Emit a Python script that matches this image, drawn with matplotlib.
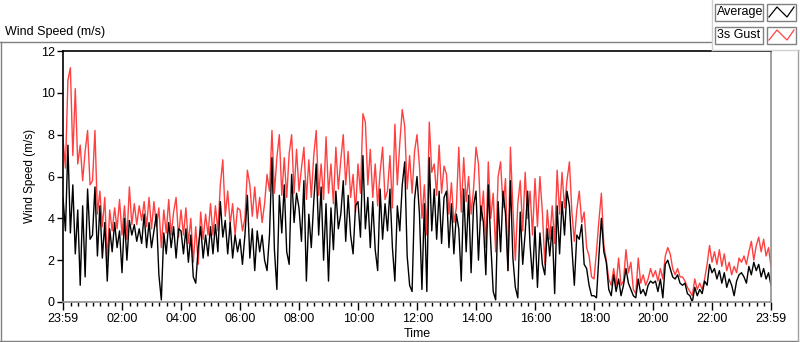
import matplotlib.pyplot as plt
import numpy as np
from matplotlib.lines import Line2D
from matplotlib.patches import Rectangle

plt.rcParams["font.family"] = ["Liberation Sans", "DejaVu Sans"]

# 5-minute readings, 23:59 -> 23:59 (m/s)
gust = [
    7.8, 6.4, 10.6, 11.2, 7.0, 10.2, 6.6, 7.5, 5.8, 7.2, 8.2, 5.6,   # 00
    5.8, 8.2, 4.2, 5.3, 3.6, 5.0, 1.9, 4.4, 3.4, 4.5, 3.5, 4.9,      # 01
    3.2, 4.6, 3.0, 5.5, 3.7, 4.7, 3.7, 4.6, 3.9, 4.8, 3.6, 5.0,      # 02
    3.5, 4.8, 3.6, 4.5, 2.6, 4.4, 3.3, 4.9, 3.2, 4.3, 5.0, 3.1,      # 03
    4.4, 3.2, 4.5, 2.8, 4.0, 1.9, 3.6, 1.8, 4.3, 3.0, 4.2, 3.2,      # 04
    4.7, 3.2, 4.6, 3.4, 5.6, 6.8, 4.1, 5.3, 3.7, 4.7, 3.2, 4.5,      # 05
    4.4, 3.4, 4.0, 6.3, 5.6, 4.1, 5.5, 4.0, 5.0, 3.8, 4.7, 6.1,      # 06
    5.3, 8.2, 5.2, 6.9, 8.0, 5.1, 6.9, 5.0, 7.1, 8.0, 5.2, 7.3,      # 07
    5.3, 6.4, 7.4, 4.9, 6.8, 5.0, 7.0, 8.2, 5.1, 6.6, 4.9, 7.9,      # 08
    5.2, 6.6, 4.7, 7.4, 5.4, 6.8, 8.0, 5.6, 7.2, 5.0, 6.1, 4.3,      # 09
    6.6, 5.2, 9.0, 8.6, 5.6, 7.3, 5.0, 6.6, 4.6, 6.2, 7.4, 4.9,      # 10
    5.3, 7.0, 4.5, 8.5, 5.6, 7.6, 9.2, 8.4, 5.4, 7.0, 5.2, 7.2,      # 11
    8.0, 6.5, 4.0, 5.6, 3.2, 8.6, 6.2, 6.6, 5.1, 7.5, 5.2, 6.5,      # 12
    6.1, 4.2, 5.7, 3.8, 4.5, 7.4, 4.3, 6.9, 4.8, 6.0, 4.2, 5.4,      # 13
    7.4, 6.6, 3.9, 5.3, 2.6, 6.7, 4.0, 5.2, 2.4, 6.0, 6.7, 4.5,      # 14
    5.9, 1.5, 7.4, 4.5, 2.0, 4.7, 5.8, 3.4, 6.2, 4.0, 5.3, 3.2,      # 15
    5.9, 3.6, 6.0, 4.3, 1.8, 4.4, 3.0, 4.6, 2.8, 6.3, 4.2, 6.2,      # 16
    4.5, 5.8, 6.7, 4.3, 2.9, 4.4, 5.3, 3.8, 4.3, 2.6, 2.2, 1.2,      # 17
    1.1, 2.4, 3.9, 5.2, 2.7, 2.0, 1.1, 0.8, 1.6, 0.8, 2.1, 0.8,      # 18
    1.0, 2.5, 1.4, 1.9, 0.6, 0.4, 2.1, 0.9, 1.3, 0.8, 1.1, 1.6,      # 19
    1.2, 1.5, 1.0, 1.6, 1.1, 2.2, 2.6, 2.3, 1.6, 1.3, 1.6, 1.2,      # 20
    1.2, 1.0, 0.7, 0.5, 0.3, 1.1, 0.6, 0.9, 0.6, 1.1, 1.8, 2.7,      # 21
    1.9, 2.4, 1.8, 2.5, 1.7, 2.3, 1.5, 1.9, 1.3, 1.7, 1.4, 2.1,      # 22
    1.9, 2.2, 1.8, 2.4, 2.9, 2.0, 2.7, 3.1, 2.4, 3.0, 2.2, 2.6,      # 23
    1.7,
]
average = [
    5.0, 3.4, 7.5, 3.3, 5.6, 2.3, 4.4, 0.8, 4.6, 1.2, 5.4, 3.0,
    3.2, 5.5, 2.2, 4.6, 2.1, 3.8, 1.0, 3.5, 2.4, 3.8, 2.6, 3.4,
    1.4, 4.0, 2.0, 3.9, 3.2, 3.7, 2.9, 3.5, 2.8, 4.2, 2.6, 3.8,
    2.6, 3.4, 4.2, 1.3, 0.1, 3.3, 2.3, 3.8, 2.6, 3.6, 2.1, 3.5,
    3.4, 2.3, 3.5, 1.9, 3.2, 1.2, 0.9, 2.6, 3.6, 2.1, 3.2, 2.2,
    3.6, 2.3, 3.7, 2.4, 4.8, 3.1, 3.9, 2.3, 3.8, 2.1, 3.2, 2.4,
    3.0, 1.8, 3.2, 5.1, 2.1, 3.5, 1.5, 3.4, 2.4, 3.2, 2.0, 1.5,
    3.2, 6.9, 2.5, 0.6, 5.1, 3.3, 5.6, 2.4, 1.8, 6.1, 3.8, 5.2,
    4.5, 2.9, 5.8, 1.0, 4.2, 2.6, 4.8, 6.6, 3.2, 5.5, 2.0, 4.7,
    1.0, 4.5, 2.5, 5.3, 3.5, 4.2, 5.8, 2.9, 5.1, 3.2, 2.3, 4.6,
    4.8, 3.1, 7.0, 3.5, 5.0, 2.6, 4.8, 2.5, 1.5, 5.4, 3.0, 4.7,
    3.4, 5.4, 2.6, 1.0, 4.6, 3.4, 5.6, 6.7, 2.2, 0.8, 0.5, 4.9,
    6.0, 4.2, 0.6, 4.7, 0.5, 6.9, 3.4, 5.4, 3.0, 5.3, 2.8, 5.0,
    5.3, 2.6, 4.7, 2.3, 4.2, 3.5, 1.0, 5.4, 2.4, 5.1, 1.4, 4.6,
    5.3, 2.0, 4.6, 3.8, 1.3, 5.6, 2.8, 0.5, 0.1, 4.8, 2.4, 5.3,
    4.2, 1.5, 5.8, 2.1, 0.7, 0.2, 4.3, 1.8, 3.3, 5.3, 2.7, 1.1,
    3.6, 0.7, 3.3, 1.8, 1.3, 3.5, 2.2, 3.6, 0.4, 4.6, 2.3, 4.8,
    3.2, 5.3, 4.6, 2.6, 0.8, 3.2, 3.0, 3.7, 1.8, 1.6, 0.8, 0.3,
    0.3, 0.2, 2.2, 4.0, 2.4, 1.9, 0.6, 0.3, 1.3, 0.5, 1.1, 0.3,
    0.8, 1.6, 0.9, 0.6, 0.3, 0.2, 1.1, 0.4, 0.6, 0.3, 0.8, 1.0,
    0.9, 1.0, 0.5, 1.1, 0.2, 1.8, 2.0, 1.6, 1.2, 1.1, 1.3, 0.9,
    0.8, 0.9, 0.4, 0.3, 0.0, 0.7, 0.3, 0.6, 0.4, 1.0, 0.8, 1.8,
    1.4, 1.6, 1.1, 1.5, 0.9, 1.4, 0.7, 1.1, 0.8, 0.3, 1.0, 1.3,
    1.4, 1.2, 0.9, 1.7, 1.3, 1.9, 1.5, 1.8, 1.2, 1.6, 1.1, 1.4,
    0.8,
]
tick_min = [-1, 120, 240, 360, 480, 600, 720, 840, 960, 1080, 1200, 1320, 1439]
tick_labels = ["23:59", "02:00", "04:00", "06:00", "08:00", "10:00", "12:00",
               "14:00", "16:00", "18:00", "20:00", "22:00", "23:59"]

t = -1 + 5 * np.arange(len(gust))

W, H = 800, 342
def fx(x):
    return x / W
def fy(y):
    return 1 - y / H

fig = plt.figure(figsize=(W / 100, H / 100), dpi=100)
ax = fig.add_axes([fx(63), fy(302), (771 - 63) / W, (302 - 51) / H])

ax.plot(t, gust, color="#ff4040", lw=1.0)
ax.plot(t, average, color="black", lw=1.0)

ax.set_xlim(-1, 1439)
ax.set_ylim(0, 12)
ax.set_yticks(range(0, 13, 2))
ax.set_xticks(tick_min)
ax.set_xticklabels(tick_labels)
minor = [m for m in range(15, 1439, 15) if m % 120 != 0]
ax.set_xticks(minor, minor=True)
ax.tick_params(axis="both", labelsize=9, color="black", pad=2)
ax.tick_params(axis="y", length=4, width=1)
ax.tick_params(axis="x", which="major", length=6, width=1)
ax.tick_params(axis="x", which="minor", length=3, width=1)

for s in ["top", "left"]:
    ax.spines[s].set_color("black")
    ax.spines[s].set_linewidth(1.2)
for s in ["bottom", "right"]:
    ax.spines[s].set_color("#909090")
    ax.spines[s].set_linewidth(1.2)

# labels
fig.text(fx(5), fy(32), "Wind Speed (m/s)", fontsize=9, va="center", ha="left")
fig.text(fx(30), fy(176), "Wind Speed (m/s)", fontsize=8.5, rotation=90,
         va="center", ha="center")
fig.text(fx(417), fy(334), "Time", fontsize=9, va="center", ha="center")

# outer frame
frame = [
    ((0, 711), (42, 42), "#808080"),
    ((0.5, 0.5), (42, 342), "#808080"),
    ((0, 798), (341, 341), "#808080"),
    ((797.5, 797.5), (50, 342), "#a0a0a0"),
    ((712, 712), (0, 50), "#d0d0d0"),
    ((712, 800), (50, 50), "#d0d0d0"),
]
for xs, ys, c in frame:
    fig.add_artist(Line2D([fx(v) for v in xs], [fy(v) for v in ys], color=c, lw=1))

# legend
rows = [("Average", "black", 4), ("3s Gust", "#ff4040", 27)]
for name, col, top in rows:
    for x0, x1 in [(715, 763), (767, 796)]:
        fig.add_artist(Rectangle((fx(x0), fy(top + 17)), (x1 - x0) / W, 17 / H,
                                 facecolor="white", edgecolor="#808080", lw=1))
    fig.text(fx(717), fy(top + 8.5), name, fontsize=9, va="center", ha="left")
    zx = [769, 777, 787, 794]
    zy = [top + 13, top + 3, top + 13, top + 3]
    fig.add_artist(Line2D([fx(v) for v in zx], [fy(v) for v in zy], color=col, lw=0.9))

fig.savefig("out.png", dpi=100)
